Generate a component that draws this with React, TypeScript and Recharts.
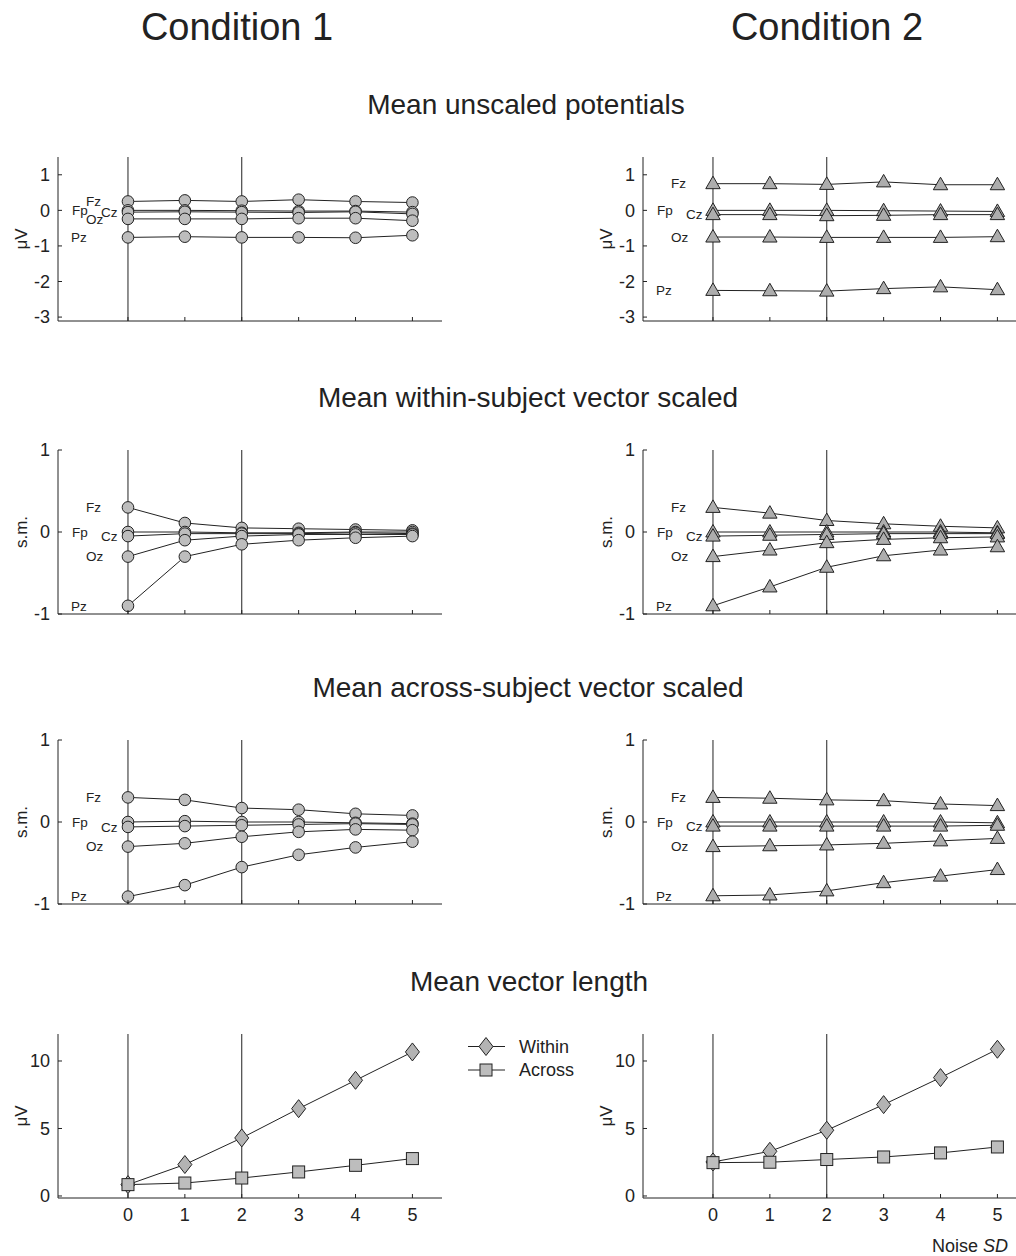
import React from 'react';
import { LineChart, Line, XAxis, YAxis, ReferenceLine, Legend } from 'recharts';

const FONT = '"Liberation Sans", Arial, Helvetica, sans-serif';
const INK = '#222';

// noise SD levels on the x axis
const noiseSD = [0, 1, 2, 3, 4, 5];
const channels = ['Fz', 'Fp', 'Cz', 'Oz', 'Pz'];

// Mean unscaled potentials (µV)
const c1Unscaled: Record<string, number[]> = {
  Fz: [0.25, 0.28, 0.25, 0.3, 0.25, 0.22],
  Fp: [0.0, 0.0, -0.01, -0.02, -0.02, -0.05],
  Cz: [-0.05, -0.04, -0.05, -0.06, -0.04, -0.1],
  Oz: [-0.24, -0.24, -0.24, -0.22, -0.22, -0.29],
  Pz: [-0.76, -0.74, -0.76, -0.76, -0.77, -0.7],
};
const c2Unscaled: Record<string, number[]> = {
  Fz: [0.75, 0.75, 0.73, 0.8, 0.72, 0.72],
  Fp: [0.0, 0.0, 0.0, -0.01, -0.02, -0.03],
  Cz: [-0.12, -0.12, -0.15, -0.14, -0.12, -0.12],
  Oz: [-0.75, -0.75, -0.76, -0.76, -0.76, -0.74],
  Pz: [-2.25, -2.26, -2.27, -2.2, -2.15, -2.23],
};

// Mean within-subject vector scaled (s.m.)
const c1Within: Record<string, number[]> = {
  Fz: [0.3, 0.11, 0.05, 0.04, 0.03, 0.02],
  Fp: [0.0, 0.0, -0.01, -0.01, 0.0, 0.0],
  Cz: [-0.05, -0.02, -0.02, -0.02, -0.01, -0.02],
  Oz: [-0.3, -0.1, -0.05, -0.03, -0.03, -0.03],
  Pz: [-0.9, -0.3, -0.15, -0.1, -0.07, -0.05],
};
const c2Within: Record<string, number[]> = {
  Fz: [0.3, 0.23, 0.14, 0.1, 0.07, 0.05],
  Fp: [0.0, 0.0, 0.0, 0.0, 0.0, -0.01],
  Cz: [-0.05, -0.04, -0.03, -0.02, -0.02, -0.02],
  Oz: [-0.3, -0.22, -0.13, -0.09, -0.07, -0.06],
  Pz: [-0.9, -0.67, -0.43, -0.29, -0.22, -0.18],
};

// Mean across-subject vector scaled (s.m.)
const c1Across: Record<string, number[]> = {
  Fz: [0.3, 0.27, 0.17, 0.15, 0.1, 0.08],
  Fp: [0.0, 0.01, 0.0, 0.0, -0.01, -0.02],
  Cz: [-0.06, -0.05, -0.04, -0.03, -0.02, -0.03],
  Oz: [-0.3, -0.26, -0.18, -0.12, -0.09, -0.1],
  Pz: [-0.91, -0.77, -0.55, -0.4, -0.31, -0.24],
};
const c2Across: Record<string, number[]> = {
  Fz: [0.3, 0.29, 0.27, 0.26, 0.22, 0.2],
  Fp: [0.0, 0.0, 0.0, 0.0, 0.0, -0.01],
  Cz: [-0.05, -0.05, -0.05, -0.05, -0.05, -0.04],
  Oz: [-0.3, -0.29, -0.28, -0.26, -0.23, -0.2],
  Pz: [-0.9, -0.89, -0.84, -0.74, -0.66, -0.58],
};

// Mean vector length (µV)
const c1LengthWithin = [0.84, 2.33, 4.3, 6.47, 8.57, 10.67];
const c1LengthAcross = [0.84, 0.96, 1.33, 1.78, 2.27, 2.77];
const c2LengthWithin = [2.52, 3.31, 4.87, 6.77, 8.77, 10.87];
const c2LengthAcross = [2.47, 2.5, 2.7, 2.89, 3.19, 3.63];

const potentialTicks = [-3, -2, -1, 0, 1];
const scaledTicks = [-1, 0, 1];
const lengthTicks = [0, 5, 10];

// horizontal offset of the channel name from the first point
const LABEL_DX: Record<string, number> = { Fz: -42, Fp: -56, Cz: -27, Oz: -42, Pz: -57 };

const channelRows = (src: Record<string, number[]>) =>
  noiseSD.map((sd, i) => {
    const row: any = { sd };
    channels.forEach((ch) => (row[ch] = src[ch][i]));
    return row;
  });

const lengthRows = (within: number[], across: number[]) =>
  noiseSD.map((sd, i) => ({ sd, within: within[i], across: across[i] }));

type MarkerKind = 'circle' | 'triangle' | 'diamond' | 'square';

const Marker = ({ cx, cy, kind }: { cx: number; cy: number; kind: MarkerKind }) => {
  const common = { stroke: INK, strokeWidth: 1 };
  if (kind === 'circle') return <circle cx={cx} cy={cy} r={5.8} fill="#bdbdbd" {...common} />;
  if (kind === 'triangle')
    return (
      <polygon
        points={`${cx},${cy - 7.5} ${cx - 7.2},${cy + 5} ${cx + 7.2},${cy + 5}`}
        fill="#adadad"
        {...common}
      />
    );
  if (kind === 'diamond')
    return (
      <polygon
        points={`${cx},${cy - 9} ${cx + 7},${cy} ${cx},${cy + 9} ${cx - 7},${cy}`}
        fill="#b3b3b3"
        {...common}
      />
    );
  return <rect x={cx - 6} y={cy - 6} width={12} height={12} fill="#bdbdbd" {...common} />;
};

const dotOf = (kind: MarkerKind) => (p: any) => {
  if (p.cx == null || p.cy == null) return <g key={`d-${p.index}`} />;
  return (
    <g key={`d-${p.index}`}>
      <Marker cx={p.cx} cy={p.cy} kind={kind} />
    </g>
  );
};

const channelLabel = (ch: string) => (p: any) => {
  if (p.index !== 0) return null;
  const x = p.x ?? p.viewBox?.x;
  const y = p.y ?? p.viewBox?.y;
  if (x == null || y == null) return null;
  return (
    <text key={`l-${ch}`} x={x + LABEL_DX[ch]} y={y} dy="0.35em" fontSize={13.5} fill={INK} fontFamily={FONT}>
      {ch}
    </text>
  );
};

const XTick = (showLabel: boolean) => (p: any) => (
  <g>
    <line x1={p.x} x2={p.x} y1={p.y} y2={p.y - 4} stroke={INK} />
    {showLabel && (
      <text x={p.x} y={p.y + 17} dy="0.35em" textAnchor="middle" fontSize={18} fill={INK} fontFamily={FONT}>
        {p.payload.value}
      </text>
    )}
  </g>
);

const YTick = (p: any) => (
  <g>
    <line x1={p.x} x2={p.x + 4} y1={p.y} y2={p.y} stroke={INK} />
    <text x={p.x - 8} y={p.y} dy="0.35em" textAnchor="end" fontSize={18} fill={INK} fontFamily={FONT}>
      {p.payload.value}
    </text>
  </g>
);

const PLOT_W = 384;
const PLOT_H = 164;
const AXIS_W = 58;

const yTitle = (text: string) => (p: any) => {
  const vb = p.viewBox || {};
  const cx = (vb.x ?? 0) + (vb.width ?? AXIS_W) - 37;
  const cy = (vb.y ?? 10) + (vb.height ?? PLOT_H) / 2;
  return (
    <text
      x={cx}
      y={cy}
      transform={`rotate(-90 ${cx} ${cy})`}
      textAnchor="middle"
      dominantBaseline="central"
      fontSize={17}
      fill={INK}
      fontFamily={FONT}
    >
      {text}
    </text>
  );
};

const LengthLegend = () => (
  <svg width={130} height={50}>
    <line x1={3} x2={40} y1={12.5} y2={12.5} stroke={INK} />
    <Marker cx={21} cy={12.5} kind="diamond" />
    <text x={54} y={12.5} dy="0.35em" fontSize={18} fill={INK} fontFamily={FONT}>
      Within
    </text>
    <line x1={3} x2={40} y1={36} y2={36} stroke={INK} />
    <Marker cx={21} cy={36} kind="square" />
    <text x={54} y={36} dy="0.35em" fontSize={18} fill={INK} fontFamily={FONT}>
      Across
    </text>
  </svg>
);

interface Series {
  key: string;
  marker: MarkerKind;
  labeled?: boolean;
}

interface PanelProps {
  left: number;
  plotTop: number;
  data: any[];
  series: Series[];
  yDomain: [number, number];
  yTicks: number[];
  yLabel: string;
  xLabels?: boolean;
  legend?: boolean;
}

const Panel = ({ left, plotTop, data, series, yDomain, yTicks, yLabel, xLabels, legend }: PanelProps) => {
  const width = legend ? 600 : AXIS_W + PLOT_W + 10;
  const height = 10 + PLOT_H + 40;
  return (
    <div style={{ position: 'absolute', left, top: plotTop - 10, width, height }}>
      <LineChart width={width} height={height} data={data} margin={{ top: 10, right: width - AXIS_W - PLOT_W, left: 0, bottom: 0 }}>
        <XAxis
          dataKey="sd"
          type="number"
          domain={[-1.23, 5.52]}
          ticks={noiseSD}
          allowDataOverflow
          height={40}
          axisLine={{ stroke: INK }}
          tickLine={false}
          tickSize={0}
          tickMargin={0}
          tick={XTick(!!xLabels)}
          interval={0}
        />
        <YAxis
          type="number"
          domain={yDomain}
          ticks={yTicks}
          allowDataOverflow
          width={AXIS_W}
          axisLine={{ stroke: INK }}
          tickLine={false}
          tickSize={0}
          tickMargin={0}
          tick={YTick}
          interval={0}
          label={yTitle(yLabel)}
        />
        <ReferenceLine x={0} stroke={INK} strokeWidth={1} />
        <ReferenceLine x={2} stroke={INK} strokeWidth={1} />
        {series.map((s) => (
          <Line
            key={s.key}
            dataKey={s.key}
            type="linear"
            stroke={INK}
            strokeWidth={1}
            dot={dotOf(s.marker)}
            activeDot={false}
            isAnimationActive={false}
            label={s.labeled ? channelLabel(s.key) : undefined}
          />
        ))}
        {legend && (
          <Legend
            layout="vertical"
            align="center"
            verticalAlign="middle"
            wrapperStyle={{ left: 465, top: 10, width: 130, height: 50 }}
            content={() => <LengthLegend />}
          />
        )}
      </LineChart>
    </div>
  );
};

const circleSeries: Series[] = channels.map((key) => ({ key, marker: 'circle', labeled: true }));
const triangleSeries: Series[] = channels.map((key) => ({ key, marker: 'triangle', labeled: true }));
const lengthSeries: Series[] = [
  { key: 'within', marker: 'diamond' },
  { key: 'across', marker: 'square' },
];

const Title = ({ text, cx, cy, size }: { text: string; cx: number; cy: number; size: number }) => (
  <div
    style={{
      position: 'absolute',
      left: cx - 300,
      width: 600,
      top: cy - size * 0.488,
      fontSize: size,
      lineHeight: 1,
      textAlign: 'center',
      color: INK,
      whiteSpace: 'nowrap',
    }}
  >
    {text}
  </div>
);

const LEFT = 0;
const RIGHT = 585;

export default function App() {
  return (
    <div
      style={{
        position: 'absolute',
        left: 0,
        top: 0,
        width: 1016,
        height: 1256,
        overflow: 'hidden',
        background: '#fff',
        fontFamily: FONT,
      }}
    >
      <Title text="Condition 1" cx={237} cy={26.5} size={38} />
      <Title text="Condition 2" cx={827} cy={26.5} size={38} />

      <Title text="Mean unscaled potentials" cx={526} cy={105} size={28} />
      <Panel left={LEFT} plotTop={157} data={channelRows(c1Unscaled)} series={circleSeries} yDomain={[-3.11, 1.5]} yTicks={potentialTicks} yLabel="μV" />
      <Panel left={RIGHT} plotTop={157} data={channelRows(c2Unscaled)} series={triangleSeries} yDomain={[-3.11, 1.5]} yTicks={potentialTicks} yLabel="μV" />

      <Title text="Mean within-subject vector scaled" cx={528} cy={398} size={28} />
      <Panel left={LEFT} plotTop={450} data={channelRows(c1Within)} series={circleSeries} yDomain={[-1, 1]} yTicks={scaledTicks} yLabel="s.m." />
      <Panel left={RIGHT} plotTop={450} data={channelRows(c2Within)} series={triangleSeries} yDomain={[-1, 1]} yTicks={scaledTicks} yLabel="s.m." />

      <Title text="Mean across-subject vector scaled" cx={528} cy={688} size={28} />
      <Panel left={LEFT} plotTop={740} data={channelRows(c1Across)} series={circleSeries} yDomain={[-1, 1]} yTicks={scaledTicks} yLabel="s.m." />
      <Panel left={RIGHT} plotTop={740} data={channelRows(c2Across)} series={triangleSeries} yDomain={[-1, 1]} yTicks={scaledTicks} yLabel="s.m." />

      <Title text="Mean vector length" cx={529} cy={982} size={28} />
      <Panel
        left={LEFT}
        plotTop={1034}
        data={lengthRows(c1LengthWithin, c1LengthAcross)}
        series={lengthSeries}
        yDomain={[-0.15, 12]}
        yTicks={lengthTicks}
        yLabel="μV"
        xLabels
        legend
      />
      <Panel
        left={RIGHT}
        plotTop={1034}
        data={lengthRows(c2LengthWithin, c2LengthAcross)}
        series={lengthSeries}
        yDomain={[-0.15, 12]}
        yTicks={lengthTicks}
        yLabel="μV"
        xLabels
      />

      <div style={{ position: 'absolute', left: 932, top: 1246 - 18 * 0.5, fontSize: 18, lineHeight: 1, color: INK, whiteSpace: 'nowrap' }}>
        Noise <i>SD</i>
      </div>
    </div>
  );
}
